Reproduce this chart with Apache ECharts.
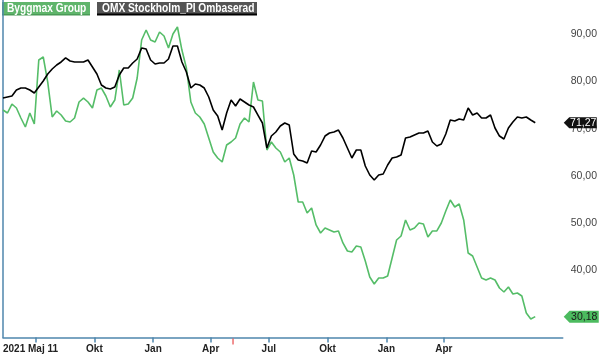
<!DOCTYPE html>
<html>
<head>
<meta charset="utf-8">
<script src="https://cdn.jsdelivr.net/npm/echarts@6/dist/echarts.min.js"></script>
<style>
html,body{margin:0;padding:0;background:#fff;}
#chart{width:600px;height:357px;}
</style>
</head>
<body>
<div id="chart"></div>
<script>
// Weekly closes, starting 2021-05-11
const startDate = '2021-05-11';
const stepDays = 7;

const omxValues = [
  76.50,76.72,76.93,78.20,78.62,78.62,78.20,77.56,78.83,80.11,
  81.59,82.65,83.50,84.14,84.99,84.34,84.14,84.14,84.14,84.56,
  83.07,81.59,79.26,78.62,78.41,78.83,81.38,82.86,82.86,83.92,
  84.77,87.10,86.89,84.56,83.71,83.92,83.92,84.77,87.52,87.52,
  84.14,82.01,78.62,79.47,79.26,78.62,76.72,73.96,72.69,69.72,
  73.33,76.08,74.81,76.29,75.66,75.02,74.60,72.90,71.21,65.91,
  68.45,69.30,70.57,71.21,70.78,64.64,63.37,63.16,62.73,65.28,
  65.06,66.55,68.45,69.09,69.30,69.72,68.03,65.91,63.79,65.49,
  65.49,62.10,60.19,59.13,60.19,60.40,62.31,63.79,64.00,64.43,
  68.03,68.24,68.67,69.09,69.09,69.51,67.18,66.33,66.76,68.88,
  71.84,71.63,72.06,71.84,74.39,72.90,73.33,72.27,72.27,72.90,
  70.15,68.45,67.82,70.15,71.42,72.48,72.27,72.48,71.84,71.27
];

const byggmaxValues = [
  73.96,73.33,75.23,74.39,72.27,70.36,73.33,71.00,84.56,85.19,
  79.89,72.48,73.75,72.90,71.63,71.42,72.27,75.66,76.50,75.66,
  74.39,78.20,78.62,76.93,74.60,76.08,82.44,75.02,75.23,76.50,
  80.74,88.79,90.91,88.79,88.37,90.49,89.64,87.10,90.06,91.55,
  86.67,82.86,75.66,73.33,72.48,71.00,68.03,65.06,63.79,62.94,
  66.55,67.18,68.03,71.00,72.27,71.42,79.89,76.08,75.87,65.49,
  67.18,65.91,65.06,62.94,63.79,60.19,54.47,54.47,52.14,53.20,
  49.60,47.90,48.96,48.54,48.11,48.33,45.79,44.09,43.88,45.15,
  44.94,41.97,38.58,37.10,38.37,38.37,38.79,42.61,46.42,47.27,
  50.66,48.54,48.96,50.02,49.81,47.05,48.33,48.33,50.02,52.56,
  54.89,53.41,54.05,50.66,43.66,43.03,40.70,38.37,37.94,38.37,
  37.94,36.25,35.40,36.46,34.98,35.19,34.56,30.96,29.69,30.18
];

const seriesNames = ['Byggmax Group', 'OMX Stockholm_PI Ombaserad'];
const xTickDates = ['2021-07-01','2021-10-01','2022-01-01','2022-04-01','2022-07-01','2022-10-01','2023-01-01','2023-04-01'];
const monthNames = {0:'Jan',3:'Apr',6:'Jul',9:'Okt'};
const firstLabel = '2021 Maj 11';
const yTickValues = [30,40,50,60,70,80,90];
const eventDate = '2022-05-06';
const xMaxDate = '2023-10-04';
const yMin = 25.76, yMax = 97.27;

const DAY = 86400000;
const t0 = Date.parse(startDate + 'T00:00:00Z');
const dayOf = d => Math.round((Date.parse(d + 'T00:00:00Z') - t0) / DAY);
const omxData = omxValues.map((v, i) => [i * stepDays, v]);
const bygData = byggmaxValues.map((v, i) => [i * stepDays, v]);
const xMax = dayOf(xMaxDate);
const tickDays = xTickDates.map(dayOf);
const fmt = v => v.toFixed(2).replace('.', ',');

const axisColor = '#4f86ad';
const green = '#55bd68';
const font = '"Liberation Sans", Arial, sans-serif';

const chart = echarts.init(document.getElementById('chart'), null, {renderer: 'canvas'});
chart.setOption({
  animation: false,
  grid: {left: 0, right: 36, top: 0, bottom: 19.5, containLabel: false},
  xAxis: {
    type: 'value',
    min: 0, max: xMax,
    splitLine: {show: false},
    axisLine: {show: true, lineStyle: {color: axisColor, width: 1.5}},
    axisTick: {show: true, length: 5, lineStyle: {color: axisColor, width: 1.5}, customValues: tickDays},
    axisLabel: {
      customValues: [0].concat(tickDays.slice(1)),
      alignMinLabel: 'left',
      showMinLabel: true,
      margin: 7,
      color: '#222', fontSize: 10, fontWeight: 'bold', fontFamily: font,
      formatter: function (v) {
        if (v === 0) return firstLabel;
        const d = new Date(t0 + v * DAY);
        return monthNames[d.getUTCMonth()] || '';
      }
    }
  },
  yAxis: {
    type: 'value',
    position: 'right',
    min: yMin, max: yMax,
    splitLine: {show: false},
    axisLine: {show: true, lineStyle: {color: axisColor, width: 1.5}},
    axisTick: {show: false},
    axisLabel: {
      customValues: yTickValues,
      margin: 8,
      color: '#444', fontSize: 10.5, fontFamily: font,
      formatter: v => fmt(v)
    }
  },
  series: [
    {
      name: seriesNames[0], type: 'line', data: bygData, showSymbol: false,
      lineStyle: {color: green, width: 1.6}, itemStyle: {color: green},
      z: 3,
      markPoint: {
        symbol: 'path://M0,6 L6,0 L36,0 L36,12 L6,12 Z',
        symbolSize: [35, 12],
        symbolOffset: [18.5, 0],
        itemStyle: {color: '#4cbb5f'},
        label: {show: true, position: 'inside', offset: [3, 0], color: '#1a1a1a', fontSize: 10.5,
                fontFamily: font,
                formatter: () => fmt(byggmaxValues[byggmaxValues.length - 1])},
        data: [{coord: [xMax, byggmaxValues[byggmaxValues.length - 1]]}]
      }
    },
    {
      name: seriesNames[1], type: 'line', data: omxData, showSymbol: false,
      lineStyle: {color: '#000', width: 1.6}, itemStyle: {color: '#000'},
      z: 4,
      markPoint: {
        symbol: 'path://M0,6 L6,0 L36,0 L36,12 L6,12 Z',
        symbolSize: [33, 11],
        symbolOffset: [17.5, 0],
        itemStyle: {color: '#111'},
        label: {show: true, position: 'inside', offset: [3, 0], color: '#fff', fontSize: 10.5,
                fontFamily: font,
                formatter: () => fmt(omxValues[omxValues.length - 1])},
        data: [{coord: [xMax, omxValues[omxValues.length - 1]]}]
      }
    },
    {
      name: 'event', type: 'scatter', clip: false, silent: true,
      data: [[dayOf(eventDate), yMin]],
      symbol: 'rect', symbolSize: [1.5, 6], symbolOffset: [0, 4],
      itemStyle: {color: '#e8484a'}, z: 5
    }
  ],
  graphic: [
    {type: 'rect', x: 2, y: 2, shape: {x: 0, y: 0, width: 88, height: 13}, style: {fill: '#5fb56b'}},
    {type: 'rect', x: 2, y: 14, shape: {x: 0, y: 0, width: 88, height: 1.5}, style: {fill: '#4a9a56'}},
    {type: 'text', x: 7, y: 3, scaleX: 0.85, style: {text: seriesNames[0], fill: '#fff', font: 'bold 12px ' + font, textVerticalAlign: 'top'}},
    {type: 'rect', x: 97, y: 2, shape: {x: 0, y: 0, width: 160, height: 13}, style: {fill: '#555'}},
    {type: 'rect', x: 97, y: 13.5, shape: {x: 0, y: 0, width: 160, height: 2}, style: {fill: '#000'}},
    {type: 'text', x: 102, y: 3, scaleX: 0.85, style: {text: seriesNames[1], fill: '#fff', font: 'bold 12px ' + font, textVerticalAlign: 'top'}}
  ]
});
</script>
</body>
</html>
